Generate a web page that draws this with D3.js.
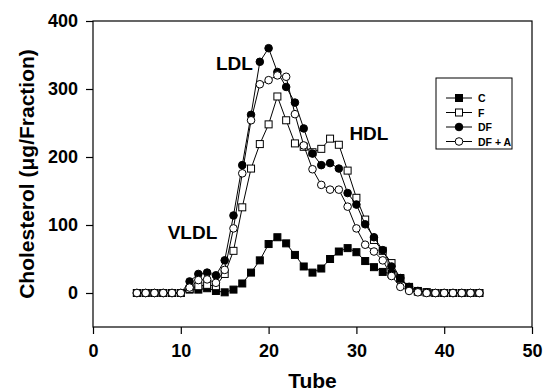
<!DOCTYPE html>
<html>
<head>
<meta charset="utf-8">
<script src="https://cdn.jsdelivr.net/npm/d3@7"></script>
<style>
  body { margin: 0; background: #fff; }
  text { font-family: "Liberation Sans", Arial, sans-serif; font-weight: bold; fill: #000; }
</style>
</head>
<body>
<div id="chart"></div>
<script>
// tube numbers 5..44
const tubes = d3.range(5, 45);

// cholesterol per fraction, one value per tube
const seriesC   = [0,0,0,0,0,0, 5,5,7,3,1,5,14,30,48,72,82,73,56,39,30,36,50,61,66,60,47,38,31,28,21,9,3,1, 0,0,0,0,0,0];
const seriesF   = [0,0,0,0,0,0, 6,10,12,10,28,62,126,183,219,248,289,254,220,215,207,212,227,218,180,140,108,78,62,44,22,7,2,1, 0,0,0,0,0,0];
const seriesDF  = [0,0,0,0,0,0, 17,28,30,26,48,114,188,262,340,360,325,303,280,242,205,188,191,183,147,130,101,82,63,39,22,9,3,1, 0,0,0,0,0,0];
const seriesDFA = [0,0,0,0,0,0, 8,19,20,15,34,95,176,254,307,313,320,318,263,217,182,159,152,152,127,95,71,61,48,25,9,3,1,0, 0,0,0,0,0,0];

const seriesNames = ['C', 'F', 'DF', 'DF + A'];
const xTicks = [0, 10, 20, 30, 40, 50];
const yTicks = [0, 100, 200, 300, 400];

const labels = [
  {text: 'LDL',  tube: 14.0, val: 328},
  {text: 'HDL',  tube: 29.2, val: 225},
  {text: 'VLDL', tube: 8.5,  val: 79}
];

const width = 543;
const height = 391;
const margin = {left: 93, right: 11, top: 21, bottom: 64};

const svg = d3.select('#chart').append('svg')
  .attr('width', width)
  .attr('height', height);

const x = d3.scaleLinear().domain([0, 50]).range([margin.left, width - margin.right]);
const y = d3.scaleLinear().domain([-50, 400]).range([height - margin.bottom, margin.top]);

// frame
svg.append('rect')
  .attr('x', x(0)).attr('y', y(400))
  .attr('width', x(50) - x(0)).attr('height', y(-50) - y(400))
  .attr('fill', 'none').attr('stroke', '#000').attr('stroke-width', 1.2);

// axes
const axisX = d3.axisBottom(x).tickValues(xTicks).tickSize(7).tickPadding(10);
const gx = svg.append('g')
  .attr('transform', `translate(0, ${y(-50)})`)
  .call(axisX);
const axisY = d3.axisLeft(y).tickValues(yTicks).tickSize(7).tickPadding(8);
const gy = svg.append('g')
  .attr('transform', `translate(${x(0)}, 0)`)
  .call(axisY);

[gx, gy].forEach(g => {
  g.select('.domain').remove();
  g.selectAll('line').attr('stroke', '#000').attr('stroke-width', 1.2);
  g.selectAll('text').style('font-size', '18px')
    .style('font-family', '"Liberation Sans", Arial, sans-serif')
    .style('font-weight', 'bold');
});

// axis titles
svg.append('text')
  .attr('x', x(25)).attr('y', 388)
  .attr('text-anchor', 'middle')
  .style('font-size', '21px')
  .text('Tube');

svg.append('text')
  .attr('transform', `translate(34, ${y(175)}) rotate(-90)`)
  .attr('text-anchor', 'middle')
  .style('font-size', '21px')
  .text('Cholesterol (μg/Fraction)');

// series
const allSeries = [seriesC, seriesF, seriesDF, seriesDFA];
const shapes = ['square', 'square', 'circle', 'circle'];
const fills = ['#000', '#fff', '#000', '#fff'];

const line = d3.line()
  .x((d, i) => x(tubes[i]))
  .y(d => y(d));

allSeries.forEach((vals, k) => {
  const g = svg.append('g').attr('class', 'series');
  g.append('path')
    .attr('d', line(vals))
    .attr('fill', 'none')
    .attr('stroke', '#000')
    .attr('stroke-width', 1);

  if (shapes[k] === 'square') {
    g.selectAll('rect')
      .data(vals)
      .enter()
      .append('rect')
      .attr('x', (d, i) => x(tubes[i]) - 3.5)
      .attr('y', d => y(d) - 3.5)
      .attr('width', 7)
      .attr('height', 7)
      .attr('fill', fills[k])
      .attr('stroke', '#000')
      .attr('stroke-width', 1);
  } else {
    g.selectAll('circle')
      .data(vals)
      .enter()
      .append('circle')
      .attr('cx', (d, i) => x(tubes[i]))
      .attr('cy', d => y(d))
      .attr('r', 3.8)
      .attr('fill', fills[k])
      .attr('stroke', '#000')
      .attr('stroke-width', 1);
  }
});

// peak labels
svg.selectAll('.peak')
  .data(labels)
  .enter()
  .append('text')
  .attr('class', 'peak')
  .attr('x', d => x(d.tube))
  .attr('y', d => y(d.val))
  .style('font-size', '19px')
  .text(d => d.text);

// legend
const legend = svg.append('g').attr('transform', 'translate(436, 78)');
legend.append('rect')
  .attr('width', 76).attr('height', 71)
  .attr('fill', '#fff').attr('stroke', '#000').attr('stroke-width', 1);

seriesNames.forEach((name, k) => {
  const ry = 20 + k * 14.5;
  const row = legend.append('g').attr('transform', `translate(0, ${ry})`);
  row.append('line')
    .attr('x1', 10).attr('x2', 36)
    .attr('stroke', '#000').attr('stroke-width', 1);
  if (shapes[k] === 'square') {
    row.append('rect')
      .attr('x', 19.5).attr('y', -3.5).attr('width', 7).attr('height', 7)
      .attr('fill', fills[k]).attr('stroke', '#000');
  } else {
    row.append('circle')
      .attr('cx', 23).attr('r', 3.8)
      .attr('fill', fills[k]).attr('stroke', '#000');
  }
  row.append('text')
    .attr('x', 42).attr('y', 4)
    .style('font-size', '10.5px')
    .text(name);
});
</script>
</body>
</html>
